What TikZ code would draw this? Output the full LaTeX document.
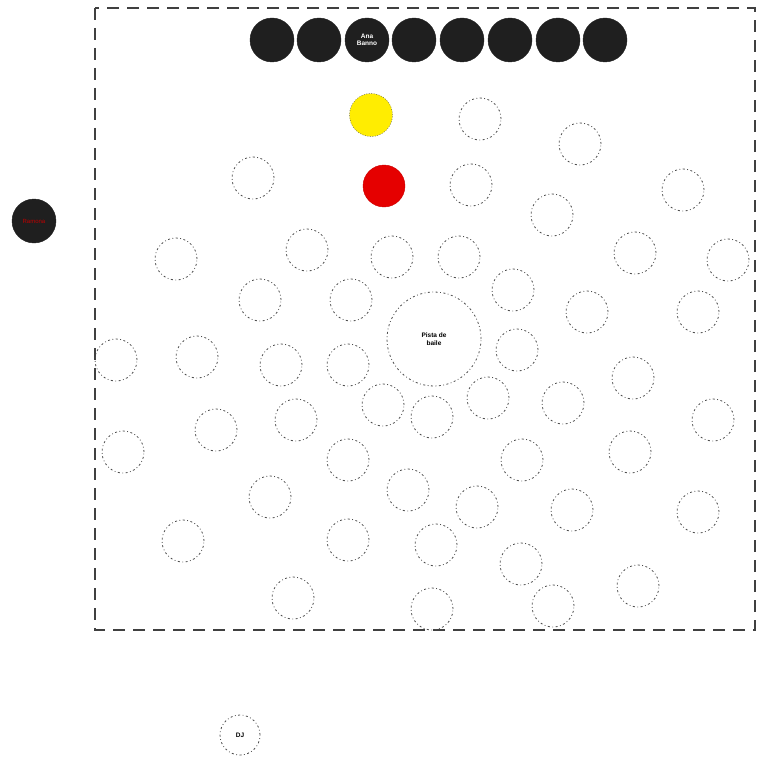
\documentclass[tikz,border=0pt]{standalone}
\usepackage{fontspec}
\setmainfont{Liberation Sans}
\begin{document}
\begin{tikzpicture}[x=1pt,y=-1pt,
  lbl/.style={font=\fontsize{6.5}{7.5}\selectfont\bfseries,align=center},
  tbl/.style={circle,draw=black!70,line width=0.8pt,dash pattern=on 2pt off 2.5pt on 0.8pt off 2.5pt,minimum size=42pt,inner sep=0pt},
  blk/.style={circle,fill=black!88,draw=black!88,minimum size=44pt,inner sep=0pt,lbl,text=white},
  area/.style={draw=black!75,line width=1.6pt,dash pattern=on 12pt off 8pt}]
\useasboundingbox (0,0) rectangle (757,757);
\draw[area] (95,8) rectangle (755,630);
% top row
\foreach \x [count=\i] in {272,319,367,414,462,510,558,605}
  \node[blk] (top\i) at (\x,40) {};
\node[lbl,text=white] (toplabel) at (top3) {Ana\\Banno};
\node[blk,text=red!75!black,font=\fontsize{6}{7}\selectfont] (left) at (34,221) {Ramona};
\node[circle,fill=yellow!95!orange,draw=black!70,dash pattern=on 1pt off 1.5pt,minimum size=43pt,inner sep=0pt] (yellow) at (371,115) {};
\node[circle,fill=red!90!black,draw=red!80!black,minimum size=42pt,inner sep=0pt] (red) at (384,186) {};
\node[tbl,minimum size=94pt,lbl] (center) at (434,339) {Pista de\\baile};
\node[tbl,minimum size=40pt,lbl] (dj) at (240,735) {DJ};
\foreach \x/\y [count=\i] in {480/119,580/144,253/178,471/185,683/190,552/215,176/259,307/250,392/257,459/257,635/253,728/260,513/290,260/300,351/300,587/312,698/312,116/360,197/357,281/365,348/365,517/350,633/378,383/405,432/417,488/398,563/403,296/420,216/430,713/420,123/452,348/460,522/460,630/452,408/490,270/497,477/507,572/510,698/512,183/541,348/540,436/545,521/564,638/586,293/598,432/609,553/606}
  \node[tbl] (t\i) at (\x,\y) {};
\end{tikzpicture}
\end{document}
